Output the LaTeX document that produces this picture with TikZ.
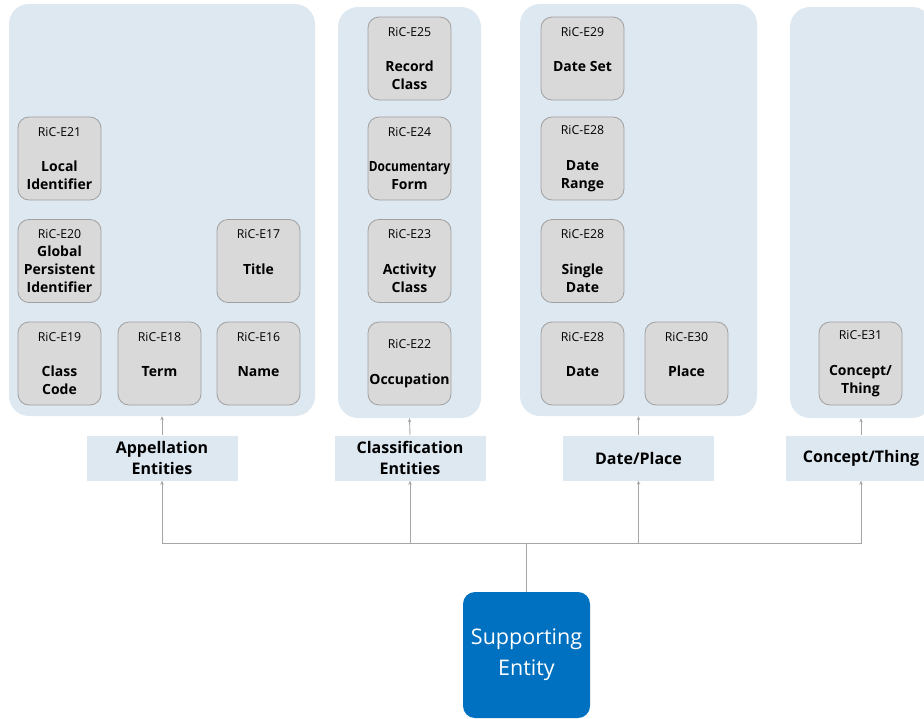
\documentclass[tikz,border=0pt]{standalone}
\usepackage{fontspec}
\setmainfont{Open Sans}
\usepackage{graphicx}
\usetikzlibrary{arrows.meta}
\definecolor{panelc}{HTML}{DEE8F1}
\definecolor{boxc}{HTML}{D9D9D9}
\definecolor{boxb}{HTML}{A0A0A0}
\definecolor{linec}{HTML}{A6A6A6}
\definecolor{supc}{HTML}{0070C0}
\newcommand{\ric}[1]{{\fontsize{12.3}{17.8}\selectfont\mdseries #1}}
\tikzset{
  panel/.style={fill=panelc, rounded corners=20pt, inner sep=0pt},
  ent/.style={draw=boxb, fill=boxc, rounded corners=11pt, minimum width=83pt, minimum height=83pt,
    inner sep=0pt, align=center, font=\fontsize{14}{17.8}\selectfont\bfseries, line width=0.8pt},
  grp/.style={fill=panelc, minimum width=151pt, minimum height=45pt, inner sep=0pt, align=center,
    font=\fontsize{16}{20.5}\selectfont\bfseries},
  supbox/.style={fill=supc, rounded corners=12pt, minimum width=127pt, minimum height=126pt,
    inner sep=0pt, text=white, align=center, font=\fontsize{21.5}{31}\selectfont},
  conn/.style={draw=linec, line width=0.9pt},
  arr/.style={conn, -{Stealth[length=4pt,width=3.5pt]}},
}
\begin{document}
\begin{tikzpicture}[x=1pt,y=-1pt]
\useasboundingbox (0,0) rectangle (924,718);
\clip (0,0) rectangle (924,718);
% panels
\node[panel, minimum width=306pt, minimum height=412pt] (p1) at (162,210) {};
\node[panel, minimum width=143pt, minimum height=411pt] (p2) at (409.5,212.5) {};
\node[panel, minimum width=237pt, minimum height=412pt] (p3) at (638.5,210) {};
\node[panel, minimum width=142pt, minimum height=411pt] (p4) at (861,212.5) {};
% panel 1 entities
\node[ent] (e21) at (59.5,158.5) {\ric{RiC-E21}\\ \\ Local\\ Identifier};
\node[ent] (e20) at (59.5,261) {\ric{RiC-E20}\\ Global\\ Persistent\\ Identifier};
\node[ent] (e17) at (258.5,261) {\ric{RiC-E17}\\ \\ Title\\ \mbox{}};
\node[ent] (e19) at (59.5,363.5) {\ric{RiC-E19}\\ \\ Class\\ Code};
\node[ent] (e18) at (159.5,363.5) {\ric{RiC-E18}\\ \\ Term\\ \mbox{}};
\node[ent] (e16) at (258.5,363.5) {\ric{RiC-E16}\\ \\ Name\\ \mbox{}};
% panel 2 entities
\node[ent] (e25) at (409.5,58.5) {\ric{RiC-E25}\\ \\ Record\\ Class};
\node[ent] (e24) at (409.5,158.5) {\ric{RiC-E24}\\ \\ \scalebox{0.85}[1]{Documentary}\\ Form};
\node[ent] (e23) at (409.5,261) {\ric{RiC-E23}\\ \\ Activity\\ Class};
\node[ent] (e22) at (409.5,363.5) {\ric{RiC-E22}\\ \\ Occupation};
% panel 3 entities
\node[ent] (e29) at (582.5,58.5) {\ric{RiC-E29}\\ \\ Date Set\\ \mbox{}};
\node[ent] (e28a) at (582.5,158.5) {\ric{RiC-E28}\\ \\ Date\\ Range};
\node[ent] (e28b) at (582.5,261) {\ric{RiC-E28}\\ \\ Single\\ Date};
\node[ent] (e28c) at (582.5,363.5) {\ric{RiC-E28}\\ \\ Date\\ \mbox{}};
\node[ent] (e30) at (686.5,363.5) {\ric{RiC-E30}\\ \\ Place\\ \mbox{}};
% panel 4 entity
\node[ent] (e31) at (860.5,363.5) {\ric{RiC-E31}\\ \\ Concept/\\ Thing};
% group labels
\node[grp] (g1) at (162,458) {Appellation\\ Entities};
\node[grp] (g2) at (410,458) {Classification\\ Entities};
\node[grp] (g3) at (638.5,458) {Date/Place};
\node[grp] (g4) at (861,458) {Concept/Thing};
% supporting entity
\node[supbox] (sup) at (526.5,655) {Supporting\\ Entity};
% connectors
\coordinate (bus) at (526.5,543);
\draw[conn] (sup.north) -- (bus);
\draw[arr] (bus) -| (g1.south);
\draw[arr] (bus) -| (g2.south);
\draw[arr] (bus) -| (g3.south);
\draw[arr] (bus) -| (g4.south);
\draw[arr] (g1.north) -- (p1.south);
\draw[arr] (g2.north) -- (p2.south);
\draw[arr] (g3.north) -- (p3.south);
\draw[arr] (g4.north) -- (p4.south);
\end{tikzpicture}
\end{document}
